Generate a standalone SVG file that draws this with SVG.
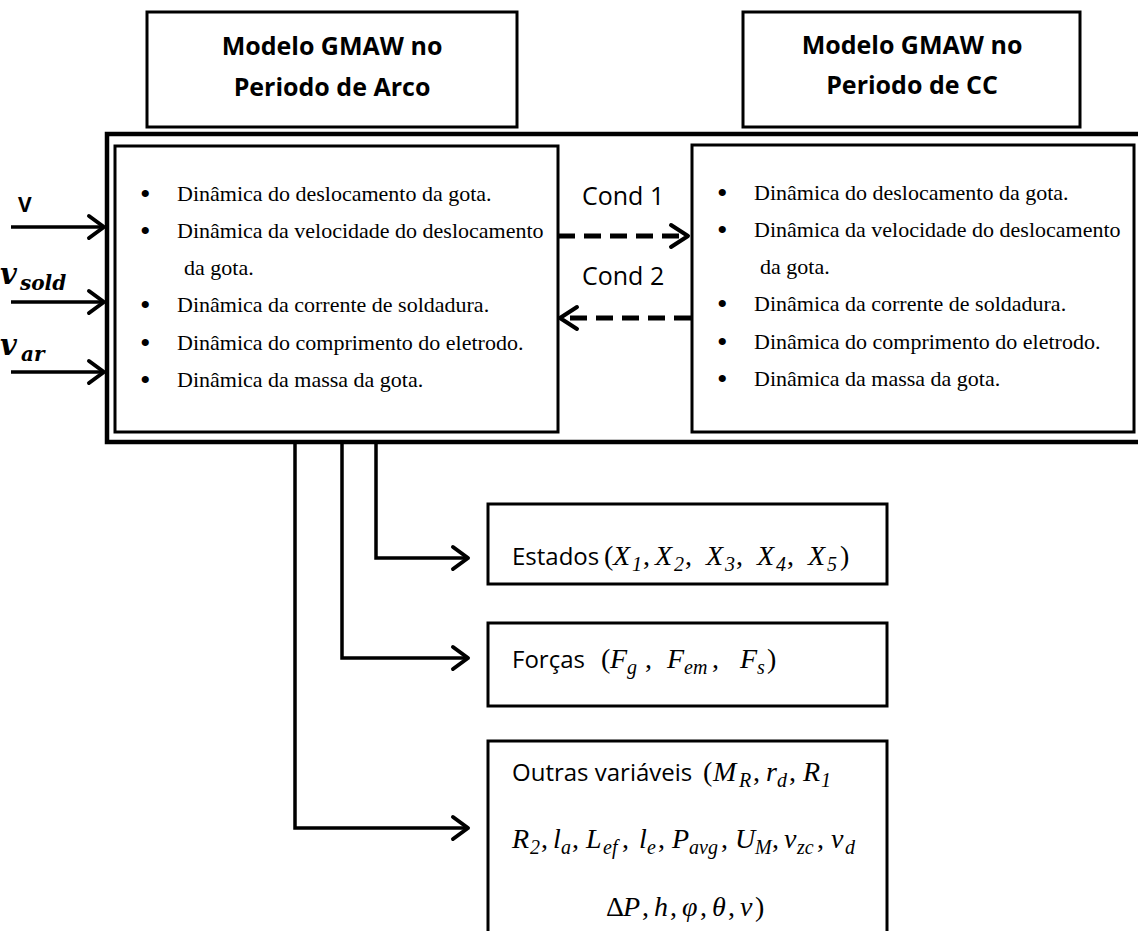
<svg xmlns="http://www.w3.org/2000/svg" width="1138" height="931" viewBox="0 0 1138 931">
<style>
.box{fill:#fff;stroke:#000;stroke-width:3}
.title{font-family:"Open Sans","Liberation Sans",sans-serif;font-weight:bold;font-size:25px;text-anchor:middle;fill:#000}
.bul{font-family:"Liberation Serif","Times New Roman",serif;font-size:22px;fill:#000}
.dot{font-family:"Liberation Serif","Times New Roman",serif;font-size:30px;fill:#000}
.lbl{font-family:"Open Sans","Liberation Sans",sans-serif;font-size:25px;fill:#000}
.body{font-family:"Open Sans","Liberation Sans",sans-serif;font-size:24px;fill:#000}
.m{font-family:"Liberation Serif","Times New Roman",serif;font-size:28px;fill:#000}
.mi{font-family:"Liberation Serif","Times New Roman",serif;font-size:28px;font-style:italic;fill:#000}
.ms{font-family:"Liberation Serif","Times New Roman",serif;font-size:20px;font-style:italic;fill:#000}
.in{font-family:"DejaVu Serif",serif;font-weight:bold;font-style:italic;fill:#000}
.ln{fill:none;stroke:#000;stroke-width:3.5}
.dash{fill:none;stroke:#000;stroke-width:5;stroke-dasharray:17 9}
.head{fill:none;stroke:#000;stroke-width:4;stroke-linecap:round;stroke-linejoin:round}
</style>

<g id="title-arco">
<rect class="box" x="147" y="12" width="370" height="115" stroke-width="3.5"/>
<text class="title" x="332" y="55">Modelo GMAW no</text>
<text class="title" x="332" y="96">Periodo de Arco</text>
</g>

<g id="title-cc">
<rect class="box" x="743" y="12" width="337" height="115" stroke-width="3.5"/>
<text class="title" x="912" y="54">Modelo GMAW no</text>
<text class="title" x="912" y="94">Periodo de CC</text>
</g>

<g id="outer">
<rect x="107" y="134" width="1060" height="308" fill="none" stroke="#000" stroke-width="4.5"/>
</g>

<g id="arco">
<rect class="box" x="115" y="146" width="443" height="286"/>
<text class="dot" x="140" y="204">•</text>
<text class="bul" x="177" y="201">Dinâmica do deslocamento da gota.</text>
<text class="dot" x="140" y="241">•</text>
<text class="bul" x="177" y="238">Dinâmica da velocidade do deslocamento</text>
<text class="bul" x="184" y="275">da gota.</text>
<text class="dot" x="140" y="315">•</text>
<text class="bul" x="177" y="312">Dinâmica da corrente de soldadura.</text>
<text class="dot" x="140" y="353">•</text>
<text class="bul" x="177" y="350">Dinâmica do comprimento do eletrodo.</text>
<text class="dot" x="140" y="390">•</text>
<text class="bul" x="177" y="387">Dinâmica da massa da gota.</text>
</g>

<g id="cc">
<rect class="box" x="692" y="145" width="442" height="287"/>
<text class="dot" x="717" y="203">•</text>
<text class="bul" x="754" y="200">Dinâmica do deslocamento da gota.</text>
<text class="dot" x="717" y="240">•</text>
<text class="bul" x="754" y="237">Dinâmica da velocidade do deslocamento</text>
<text class="bul" x="760" y="274">da gota.</text>
<text class="dot" x="717" y="314">•</text>
<text class="bul" x="754" y="311">Dinâmica da corrente de soldadura.</text>
<text class="dot" x="717" y="352">•</text>
<text class="bul" x="754" y="349">Dinâmica do comprimento do eletrodo.</text>
<text class="dot" x="717" y="389">•</text>
<text class="bul" x="754" y="386">Dinâmica da massa da gota.</text>
</g>

<g id="input-v">
<text x="18" y="212" font-family="Open Sans, Liberation Sans, sans-serif" font-weight="bold" font-size="21">V</text>
</g>
<g id="input-vsold">
<text class="in" x="0" y="284" font-size="29">v</text>
<text class="in" x="20" y="290" font-size="20">sold</text>
</g>
<g id="input-var">
<text class="in" x="0" y="355" font-size="29">v</text>
<text class="in" x="21" y="361" font-size="20">ar</text>
</g>

<g id="estados">
<rect class="box" x="488" y="504" width="399" height="80" stroke-width="2.5"/>
<text class="body" x="512" y="565">Estados</text>
<text class="m" x="604" y="565">(</text>
<text class="mi" x="613" y="565">X</text><text class="ms" x="632" y="571">1</text><text class="m" x="643" y="565">,</text>
<text class="mi" x="655" y="565">X</text><text class="ms" x="674" y="571">2</text><text class="m" x="685" y="565">,</text>
<text class="mi" x="706" y="565">X</text><text class="ms" x="725" y="571">3</text><text class="m" x="736" y="565">,</text>
<text class="mi" x="757" y="565">X</text><text class="ms" x="776" y="571">4</text><text class="m" x="787" y="565">,</text>
<text class="mi" x="808" y="565">X</text><text class="ms" x="827" y="571">5</text><text class="m" x="840" y="565">)</text>
</g>

<g id="forcas">
<rect class="box" x="488" y="623" width="399" height="83" stroke-width="3.5"/>
<text class="body" x="512" y="668">Forças</text>
<text class="m" x="601" y="668">(</text>
<text class="mi" x="610" y="668">F</text><text class="ms" x="627" y="674">g</text><text class="m" x="645" y="668">,</text>
<text class="mi" x="667" y="668">F</text><text class="ms" x="684" y="674">em</text><text class="m" x="712" y="668">,</text>
<text class="mi" x="740" y="668">F</text><text class="ms" x="757" y="674">s</text><text class="m" x="767" y="668">)</text>
</g>

<g id="outras">
<rect class="box" x="488" y="741" width="399" height="200" stroke-width="2.5"/>
<text class="body" x="512" y="781">Outras variáveis</text>
<text class="m" x="703" y="781">(</text>
<text class="mi" x="713" y="781">M</text><text class="ms" x="739" y="787">R</text><text class="m" x="753" y="781">,</text>
<text class="mi" x="766" y="781">r</text><text class="ms" x="777" y="787">d</text><text class="m" x="789" y="781">,</text>
<text class="mi" x="803" y="781">R</text><text class="ms" x="821" y="787">1</text>

<text class="mi" x="512" y="848">R</text><text class="ms" x="530" y="854">2</text><text class="m" x="541" y="848">,</text>
<text class="mi" x="553" y="848">l</text><text class="ms" x="561" y="854">a</text><text class="m" x="572" y="848">,</text>
<text class="mi" x="586" y="848">L</text><text class="ms" x="603" y="854">ef</text><text class="m" x="622" y="848">,</text>
<text class="mi" x="639" y="848">l</text><text class="ms" x="647" y="854">e</text><text class="m" x="658" y="848">,</text>
<text class="mi" x="672" y="848">P</text><text class="ms" x="689" y="854">avg</text><text class="m" x="721" y="848">,</text>
<text class="mi" x="735" y="848">U</text><text class="ms" x="755" y="854">M</text><text class="m" x="772" y="848">,</text>
<text class="mi" x="784" y="848">v</text><text class="ms" x="797" y="854">zc</text><text class="m" x="817" y="848">,</text>
<text class="mi" x="831" y="848">v</text><text class="ms" x="845" y="854">d</text>

<text class="m" x="606" y="916">Δ</text>
<text class="mi" x="623" y="916">P</text><text class="m" x="642" y="916">,</text>
<text class="mi" x="654" y="916">h</text><text class="m" x="670" y="916">,</text>
<text class="mi" x="682" y="916">φ</text><text class="m" x="700" y="916">,</text>
<text class="mi" x="712" y="916">θ</text><text class="m" x="728" y="916">,</text>
<text class="mi" x="740" y="916">v</text><text class="m" x="755" y="916">)</text>
</g>

<g id="connectors">
<text class="lbl" x="582" y="205">Cond 1</text>
<text class="lbl" x="582" y="285">Cond 2</text>
<line class="dash" x1="558" y1="236" x2="686" y2="236"/>
<polyline class="head" points="671,225 688,236 671,247"/>
<line class="dash" x1="691" y1="318" x2="563" y2="318"/>
<polyline class="head" points="577,307 560,318 577,329"/>

<line class="ln" x1="11" y1="227" x2="104" y2="227"/>
<polyline class="head" points="89,216 104,227 89,238"/>
<line class="ln" x1="11" y1="302" x2="104" y2="302"/>
<polyline class="head" points="89,291 104,302 89,313"/>
<line class="ln" x1="11" y1="372" x2="104" y2="372"/>
<polyline class="head" points="89,361 104,372 89,383"/>

<polyline class="ln" points="376,442 376,558 468,558"/>
<polyline class="head" points="453,547 468,558 453,569"/>
<polyline class="ln" points="342,442 342,658 468,658"/>
<polyline class="head" points="453,647 468,658 453,669"/>
<polyline class="ln" points="295,442 295,828 468,828"/>
<polyline class="head" points="453,817 468,828 453,839"/>
</g>
</svg>
